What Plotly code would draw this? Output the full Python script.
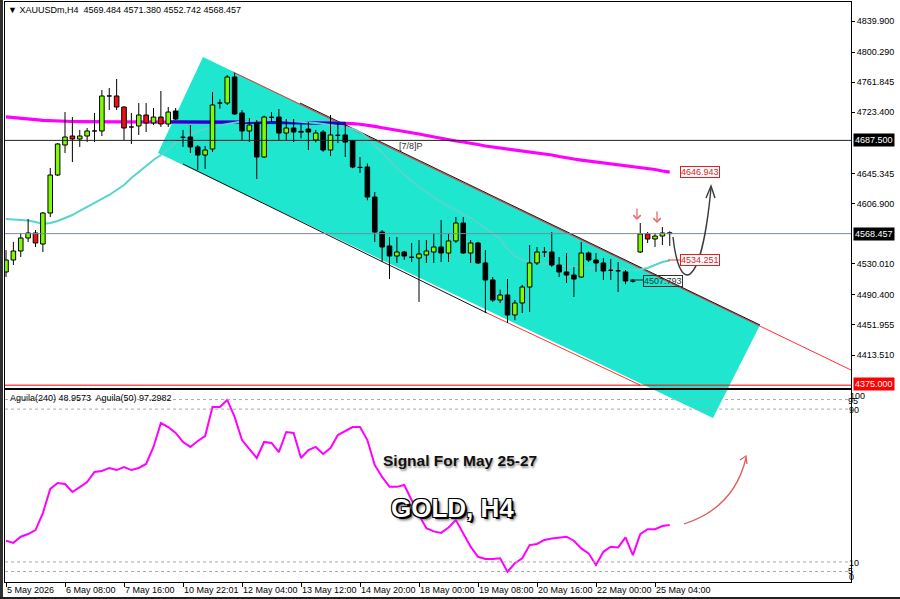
import plotly.graph_objects as go

# ---------------- data ----------------
opens = [4519.5, 4534.8, 4546.3, 4562.9, 4569.3, 4555.2, 4594.8, 4643.3, 4681.6, 4693.1,
         4689.3, 4693.1, 4699.8, 4699.5, 4744.2, 4744.2, 4730.1, 4704.8, 4705.9, 4719.9,
         4709.7, 4717.3, 4708.4, 4725.0, 4691.8, 4691.8, 4679.1, 4668.8, 4676.5, 4735.2,
         4735.2, 4768.4, 4722.5, 4699.5, 4709.7, 4666.3, 4717.3, 4717.3, 4696.9, 4703.3,
         4699.0, 4702.0, 4688.0, 4698.2, 4675.2, 4694.4, 4694.4, 4686.7, 4653.5, 4653.5,
         4615.2, 4570.5, 4552.7, 4539.9, 4545.0, 4538.6, 4537.3, 4541.2, 4545.0, 4551.4,
         4543.7, 4559.1, 4582.0, 4543.7, 4556.5, 4531.0, 4509.3, 4483.7, 4490.1, 4464.6,
         4479.9, 4500.3, 4531.0, 4545.0, 4545.0, 4528.4, 4519.5, 4515.6, 4513.1, 4543.7,
         4534.8, 4531.0, 4522.0, 4521.7, 4519.5, 4508.0, 4545.0, 4568.0, 4561.6, 4565.4,
         4569.484]
highs = [4547.6, 4557.8, 4569.3, 4587.1, 4573.1, 4596.1, 4652.2, 4684.0, 4723.7, 4717.3,
         4700.8, 4703.3, 4722.5, 4751.8, 4754.4, 4765.9, 4731.0, 4722.5, 4735.2, 4735.2,
         4728.8, 4750.5, 4730.1, 4728.8, 4700.8, 4707.1, 4681.6, 4680.3, 4749.3, 4740.0,
         4771.0, 4773.5, 4726.3, 4716.1, 4713.5, 4719.0, 4723.7, 4727.6, 4714.8, 4714.8,
         4708.0, 4711.0, 4700.8, 4700.8, 4719.9, 4709.7, 4711.0, 4688.0, 4666.3, 4658.0,
         4621.6, 4573.1, 4564.2, 4564.2, 4546.5, 4556.5, 4560.3, 4560.3, 4569.3, 4585.9,
         4569.3, 4589.7, 4589.7, 4560.3, 4558.0, 4547.6, 4513.1, 4497.0, 4510.5, 4483.7,
         4503.0, 4553.9, 4551.4, 4551.4, 4570.5, 4538.6, 4543.7, 4525.9, 4557.8, 4545.5,
         4543.7, 4537.3, 4536.1, 4532.2, 4522.0, 4510.5, 4582.0, 4570.5, 4569.3, 4576.9,
         4571.380]
lows = [4513.1, 4528.4, 4538.6, 4557.8, 4551.4, 4545.0, 4589.7, 4642.0, 4671.4, 4659.9,
        4679.1, 4685.4, 4685.4, 4693.1, 4726.3, 4726.3, 4688.0, 4682.9, 4694.4, 4698.2,
        4707.1, 4704.6, 4704.6, 4713.5, 4679.1, 4671.4, 4649.7, 4651.0, 4672.7, 4728.0,
        4732.7, 4720.0, 4688.0, 4685.4, 4638.2, 4665.0, 4711.0, 4688.0, 4688.0, 4685.4,
        4690.0, 4675.2, 4685.0, 4673.0, 4667.6, 4684.0, 4666.3, 4652.0, 4645.9, 4611.0,
        4557.8, 4532.2, 4510.5, 4531.0, 4535.0, 4532.2, 4481.2, 4531.0, 4531.0, 4532.2,
        4532.2, 4556.5, 4543.0, 4531.0, 4530.0, 4467.1, 4481.2, 4479.9, 4454.4, 4458.0,
        4467.1, 4468.4, 4528.4, 4538.6, 4525.9, 4513.1, 4505.4, 4487.6, 4511.8, 4532.2,
        4519.5, 4509.3, 4509.3, 4493.9, 4504.0, 4506.0, 4543.7, 4556.5, 4551.4, 4553.9,
        4552.742]
closes = [4534.8, 4546.3, 4562.9, 4569.3, 4556.5, 4594.8, 4643.3, 4682.9, 4691.8, 4689.3,
          4693.1, 4699.5, 4699.5, 4744.2, 4744.5, 4730.1, 4703.3, 4704.6, 4719.9, 4709.7,
          4717.3, 4708.4, 4723.7, 4714.8, 4691.5, 4679.1, 4668.8, 4675.2, 4732.7, 4735.5,
          4768.4, 4721.2, 4699.5, 4707.1, 4666.3, 4717.3, 4717.0, 4696.9, 4703.3, 4698.2,
          4698.0, 4698.2, 4696.9, 4675.2, 4694.4, 4694.0, 4685.4, 4653.5, 4653.0, 4615.2,
          4570.5, 4551.4, 4539.9, 4545.0, 4539.9, 4538.3, 4542.5, 4546.3, 4551.4, 4543.7,
          4559.1, 4582.0, 4543.7, 4556.5, 4531.0, 4509.3, 4483.7, 4490.1, 4464.6, 4479.9,
          4500.3, 4531.0, 4545.0, 4545.3, 4528.4, 4519.5, 4515.6, 4510.5, 4543.7, 4534.8,
          4531.0, 4520.8, 4521.7, 4521.0, 4508.0, 4507.8, 4568.0, 4561.6, 4565.4, 4569.3,
          4568.457]

ma_magenta = [4717.4, 4716.8, 4716.0, 4715.0, 4714.0, 4713.0, 4712.4, 4712.0, 4711.8, 4711.6,
              4711.5, 4711.4, 4711.4, 4711.5, 4711.6, 4711.7, 4711.6, 4711.5, 4711.5, 4711.4,
              4711.4, 4711.3, 4711.2, 4711.1, 4710.9, 4710.7, 4710.5, 4710.4, 4710.5, 4710.7,
              4711.0, 4711.1, 4711.0, 4710.9, 4710.7, 4710.6, 4710.6, 4710.5, 4710.4, 4710.3,
              4710.2, 4710.1, 4710.0, 4709.9, 4709.8, 4709.7, 4709.5, 4708.9, 4708.1, 4707.0,
              4705.4, 4703.6, 4702.2, 4700.8, 4698.9, 4697.0, 4695.6, 4693.7, 4691.8, 4689.9,
              4688.6, 4686.7, 4685.4, 4684.2, 4682.3, 4680.3, 4679.1, 4677.8, 4676.5, 4675.2,
              4674.0, 4672.7, 4671.4, 4670.1, 4668.8, 4666.9, 4665.0, 4663.7, 4662.4, 4661.2,
              4659.9, 4658.6, 4657.3, 4656.7, 4655.4, 4654.1, 4652.9, 4651.6, 4650.3, 4648.4,
              4646.943]
ma_blue_bars = list(range(22, 47))
ma_blue = [4711.3, 4711.3, 4711.4, 4711.5, 4711.6, 4711.6, 4711.5, 4711.5, 4711.4, 4711.2,
           4711.0, 4710.8, 4710.6, 4710.4, 4710.2, 4710.0, 4709.8, 4709.7, 4709.6, 4709.5,
           4709.5, 4709.4, 4709.4, 4709.3, 4709.2]
ma_turq = [4587.1, 4586.5, 4585.9, 4585.2, 4583.3, 4580.8, 4582.0, 4584.6, 4588.4, 4592.2,
           4597.4, 4602.5, 4607.6, 4612.7, 4617.8, 4624.2, 4630.5, 4639.5, 4647.1, 4654.8,
           4662.5, 4668.8, 4676.5, 4684.2, 4690.5, 4695.7, 4699.5, 4702.0, 4704.6, 4706.5,
           4708.4, 4710.3, 4711.6, 4712.2, 4712.9, 4713.5, 4713.5, 4713.5, 4712.9, 4712.2,
           4711.6, 4711.0, 4709.7, 4708.4, 4707.1, 4705.9, 4704.6, 4702.0, 4698.2, 4690.5,
           4681.6, 4672.7, 4662.5, 4652.2, 4643.3, 4635.6, 4628.0, 4621.6, 4615.2, 4608.8,
           4603.7, 4598.6, 4593.5, 4588.4, 4582.0, 4575.6, 4569.3, 4561.6, 4548.8, 4539.9,
           4534.8, 4532.2, 4531.0, 4529.7, 4528.4, 4527.1, 4526.5, 4525.9, 4525.2, 4524.6,
           4524.6, 4523.9, 4523.3, 4522.7, 4522.0, 4522.0, 4522.7, 4524.6, 4528.4, 4532.2,
           4534.251]
aguila = [21.1, 20.0, 23.2, 24.6, 26.7, 35.6, 48.2, 51.3, 50.8, 46.6,
          49.2, 51.8, 57.1, 57.6, 59.2, 58.1, 59.7, 58.1, 59.2, 61.3,
          70.2, 82.7, 80.6, 77.5, 72.8, 70.2, 73.3, 75.9, 91.1, 91.1,
          94.8, 85.9, 73.8, 69.1, 64.4, 72.8, 72.3, 67.5, 78.0, 77.5,
          64.4, 68.6, 70.2, 66.5, 69.6, 76.4, 78.5, 80.6, 80.6, 73.8,
          60.7, 54.5, 49.3, 49.3, 50.3, 42.5, 34.5, 27.7, 26.0, 25.2,
          28.0, 31.9, 25.1, 18.0, 12.7, 11.5, 11.5, 11.9, 4.9, 9.3,
          11.9, 18.8, 19.4, 21.5, 22.3, 22.9, 23.2, 21.1, 17.1, 14.5,
          8.4, 15.3, 18.0, 17.6, 22.9, 13.6, 24.6, 27.1, 27.1, 28.8,
          29.3]

price_ticks = [4839.900, 4800.290, 4761.845, 4723.400, 4645.345, 4606.900,
               4530.010, 4490.400, 4451.955, 4413.510]
time_label_bars = [0, 8, 16, 24, 32, 40, 48, 56, 64, 72, 80, 88]
time_labels = ["5 May 2026", "6 May 08:00", "7 May 16:00", "10 May 22:01", "12 May 04:00",
               "13 May 12:00", "14 May 20:00", "18 May 00:00", "19 May 08:00", "20 May 16:00",
               "22 May 00:00", "25 May 04:00"]
pivot_level = 4687.500
bid_level = 4568.457
support_level = 4375.000
ind_levels = [95, 90, 10, 5]
ind_labels = [100, 95, 90, 10, 5, 0]
header = "▼ XAUUSDm,H4  4569.484 4571.380 4552.742 4568.457"
ind_header = "Aguila(240) 48.9573  Aguila(50) 97.2982"

# ---------------- geometry helpers ----------------
W, H = 900, 599
PL, PR, PT, PB = 5, 851, 2, 582          # plot area in pixels
X0, X1 = -0.1356, 114.576
Y0, Y1 = 4371.39, 4864.16


def P(px, py):
    return (px - PL) / (PR - PL), (PB - py) / (PB - PT)


def pt(px, py):
    x, y = P(px, py)
    return f"{x:.5f},{y:.5f}"


FONT = "Liberation Sans, Arial, sans-serif"
GREEN = "#7CFC00"
RED = "#F01010"
CYAN = "#1FE6CF"

fig = go.Figure()

N = len(opens)
bars = list(range(N))

# moving averages (under candles)
fig.add_trace(go.Scatter(x=bars, y=ma_magenta, mode="lines",
                         line=dict(color="#FF00FF", width=3.2), hoverinfo="skip"))
fig.add_trace(go.Scatter(x=ma_blue_bars, y=ma_blue, mode="lines",
                         line=dict(color="#1010C8", width=3.2), hoverinfo="skip"))
fig.add_trace(go.Scatter(x=bars, y=ma_turq, mode="lines",
                         line=dict(color="#55D6CC", width=2), hoverinfo="skip"))

# candle wicks
wx, wy = [], []
for i in bars:
    wx += [i, i, None]
    wy += [lows[i], highs[i], None]
fig.add_trace(go.Scatter(x=wx, y=wy, mode="lines", line=dict(color="black", width=1),
                         hoverinfo="skip"))

# candle bodies
hw = 0.31
groups = {"g": ([], []), "r": ([], []), "k": ([], [])}
for i in bars:
    o, c = opens[i], closes[i]
    lo, hi = min(o, c), max(o, c)
    if c >= o:
        key = "g"
    elif 23 <= i <= 85:
        key = "k"
    else:
        key = "r"
    xs, ys = groups[key]
    xs += [i - hw, i + hw, i + hw, i - hw, i - hw, None]
    ys += [lo, lo, hi, hi, lo, None]
for key, col in (("g", GREEN), ("r", RED), ("k", "black")):
    xs, ys = groups[key]
    fig.add_trace(go.Scatter(x=xs, y=ys, mode="lines", fill="toself", fillcolor=col,
                             line=dict(color="black", width=1), hoverinfo="skip"))

# indicator
fig.add_trace(go.Scatter(x=bars, y=aguila, mode="lines", xaxis="x2", yaxis="y2",
                         line=dict(color="#FF00FF", width=2), hoverinfo="skip"))

shapes = []
# channel fill (extends below the price panel like in the screenshot)
shapes.append(dict(type="path", xref="paper", yref="paper", layer="below",
                   path=f"M {pt(158,153)} L {pt(203,57)} L {pt(760,325)} L {pt(713,418)} Z",
                   fillcolor=CYAN, line=dict(width=0)))
# trend lines
shapes.append(dict(type="path", xref="paper", yref="paper", layer="below",
                   path=f"M {pt(233,72)} L {pt(851,370)}", line=dict(color="#FF3030", width=1)))
shapes.append(dict(type="path", xref="paper", yref="paper", layer="below",
                   path=f"M {pt(300,103)} L {pt(760,325)}", line=dict(color="#101010", width=1)))
shapes.append(dict(type="path", xref="paper", yref="paper", layer="below",
                   path=f"M {pt(183,164)} L {pt(487,313)}", line=dict(color="#101010", width=1)))
shapes.append(dict(type="path", xref="paper", yref="paper", layer="below",
                   path=f"M {pt(487,313)} L {pt(640,385)}", line=dict(color="#FF3030", width=1)))
# horizontal levels
shapes.append(dict(type="line", xref="x", yref="y", x0=X0, x1=X1, y0=pivot_level, y1=pivot_level,
                   line=dict(color="#202020", width=1)))
shapes.append(dict(type="line", xref="x", yref="y", x0=X0, x1=X1, y0=bid_level, y1=bid_level,
                   line=dict(color="#7888A0", width=1)))
shapes.append(dict(type="line", xref="x", yref="y", x0=X0, x1=X1, y0=support_level, y1=support_level,
                   line=dict(color="#FF0000", width=1)))
# indicator dashed levels
for lv in ind_levels:
    shapes.append(dict(type="line", xref="x2", yref="y2", x0=X0, x1=X1, y0=lv, y1=lv,
                       line=dict(color="#A8A8A8", width=1, dash="3px,3px")))
# label leader lines
shapes.append(dict(type="path", xref="paper", yref="paper",
                   path=f"M {pt(668,260)} L {pt(680,260)}", line=dict(color="#FF3030", width=1)))
shapes.append(dict(type="path", xref="paper", yref="paper",
                   path=f"M {pt(630,280)} L {pt(643,280)}", line=dict(color="#202020", width=1)))
# forecast arrow (black)
shapes.append(dict(type="path", xref="paper", yref="paper",
                   path=f"M {pt(673,237)} C {pt(679,294)} {pt(701,294)} {pt(711,188)}",
                   line=dict(color="#3A3A3A", width=1.4)))
shapes.append(dict(type="path", xref="paper", yref="paper",
                   path=f"M {pt(706,198)} L {pt(711,186)} L {pt(715,198)}",
                   line=dict(color="#3A3A3A", width=1.4)))
# red curved arrow in indicator panel
shapes.append(dict(type="path", xref="paper", yref="paper",
                   path=f"M {pt(684,524)} Q {pt(734,508)} {pt(746,458)}",
                   line=dict(color="#E05A5A", width=1.3)))
shapes.append(dict(type="path", xref="paper", yref="paper",
                   path=f"M {pt(740,460)} L {pt(746,456)} L {pt(747,464)}",
                   line=dict(color="#E05A5A", width=1.3)))
# outer window frame
shapes.append(dict(type="rect", xref="paper", yref="paper",
                   x0=P(0, 0)[0], x1=P(3, 0)[0], y0=P(0, 599)[1], y1=P(0, 0)[1],
                   fillcolor="#303030", line=dict(width=0)))
shapes.append(dict(type="rect", xref="paper", yref="paper",
                   x0=P(0, 0)[0], x1=P(900, 0)[0], y0=P(0, 599)[1], y1=P(0, 597)[1],
                   fillcolor="#202020", line=dict(width=0)))

annotations = []


def ann(text, px, py, size=9, color="black", xanchor="left", **kw):
    x, y = P(px, py)
    d = dict(text=text, x=x, y=y, xref="paper", yref="paper", showarrow=False,
             xanchor=xanchor, yanchor="middle", font=dict(family=FONT, size=size, color=color))
    d.update(kw)
    annotations.append(d)


ann(header, 6, 10)
ann(ind_header, 8, 398)
ann("[7/8]P", 397, 146, color="#303030")

# axis value boxes
ann(f"{pivot_level:.3f}", 853, 140, color="white", bgcolor="black", borderpad=1)
ann(f"{bid_level:.3f}", 853, 234, color="white", bgcolor="black", borderpad=1)
ann(f"{support_level:.3f}", 853, 384, color="white", bgcolor="#FF0000", borderpad=1)

# labels on chart
ann(f"{ma_magenta[-1]:.3f}", 680, 172, color="#E02020", bgcolor="white",
    bordercolor="#E02020", borderwidth=1, borderpad=0)
ann(f"{ma_turq[-1]:.3f}", 680, 260, color="#E02020", bgcolor="white",
    bordercolor="#E02020", borderwidth=1, borderpad=0)
ann("4507.793", 643, 281, color="#1C3A3A", bordercolor="#303030", borderwidth=1, borderpad=0)

# indicator scale labels
ind_label_px = {100: (848, 396), 95: (846, 401), 90: (847, 410), 10: (847, 563), 5: (846, 571), 0: (847, 577)}
for lv in ind_labels:
    px, py = ind_label_px[lv]
    ann(str(lv), px, py, size=9)

# time labels
for b, t in zip(time_label_bars, time_labels):
    _, y = P(0, 590)
    annotations.append(dict(text=t, x=b - 0.1, y=y, xref="x2", yref="paper", showarrow=False,
                            xanchor="left", yanchor="middle",
                            font=dict(family=FONT, size=9, color="black")))

# signal texts
ann("Signal For May 25-27", 381, 460, size=15,
    font=dict(family=FONT, size=15.5, color="#101010", weight="bold",
              shadow="1px 2px 2px #9a9a9a"))
ann("GOLD, H4", 389, 508, size=26,
    font=dict(family=FONT, size=26, color="white", weight="bold",
              shadow="-1px -1px 0 #000, 1px -1px 0 #000, -1px 1px 0 #000, 1px 1px 0 #000, "
                     "2px 2px 0 #000, 3px 3px 3px #555"))

# red small arrows above candles
for tx, ty, ly in ((637, 220, 13), (657, 223, 13)):
    x, y = P(tx, ty)
    annotations.append(dict(x=x, y=y, xref="paper", yref="paper", text="", showarrow=True,
                            ax=0, ay=-ly, arrowhead=4, arrowsize=1.1, arrowwidth=1.3,
                            arrowcolor="#E86A6A"))

main_bottom = (PB - 388) / (PB - PT)
ind_top = (PB - 390) / (PB - PT)

fig.update_layout(
    width=W, height=H,
    margin=dict(l=PL, r=W - PR, t=PT, b=H - PB),
    paper_bgcolor="white", plot_bgcolor="rgba(0,0,0,0)",
    showlegend=False,
    shapes=shapes, annotations=annotations,
    xaxis=dict(domain=[0, 1], range=[X0, X1], anchor="y", showgrid=False, zeroline=False,
               showline=True, mirror=True, linecolor="black", linewidth=1,
               showticklabels=False, ticks=""),
    yaxis=dict(domain=[main_bottom, 1], range=[Y0, Y1], side="right", showgrid=False,
               zeroline=False, showline=True, mirror=True, linecolor="black", linewidth=1,
               tickvals=price_ticks, ticktext=[f"{v:.3f}" for v in price_ticks],
               ticks="outside", ticklen=3, tickcolor="black",
               tickfont=dict(family=FONT, size=9, color="black")),
    xaxis2=dict(domain=[0, 1], range=[X0, X1], anchor="y2", showgrid=False, zeroline=False,
                showline=True, mirror=True, linecolor="black", linewidth=1,
                showticklabels=False, ticks="outside", ticklen=4, tickcolor="black",
                tickvals=time_label_bars),
    yaxis2=dict(domain=[0, ind_top], range=[-0.5, 100], anchor="x2", side="right",
                showgrid=False, zeroline=False, showline=True, mirror=True,
                linecolor="black", linewidth=1, showticklabels=False, ticks=""),
)

fig.write_html("out.html", config={"displayModeBar": False},
               post_script="document.body.style.margin='0';document.body.style.overflow='hidden';")
